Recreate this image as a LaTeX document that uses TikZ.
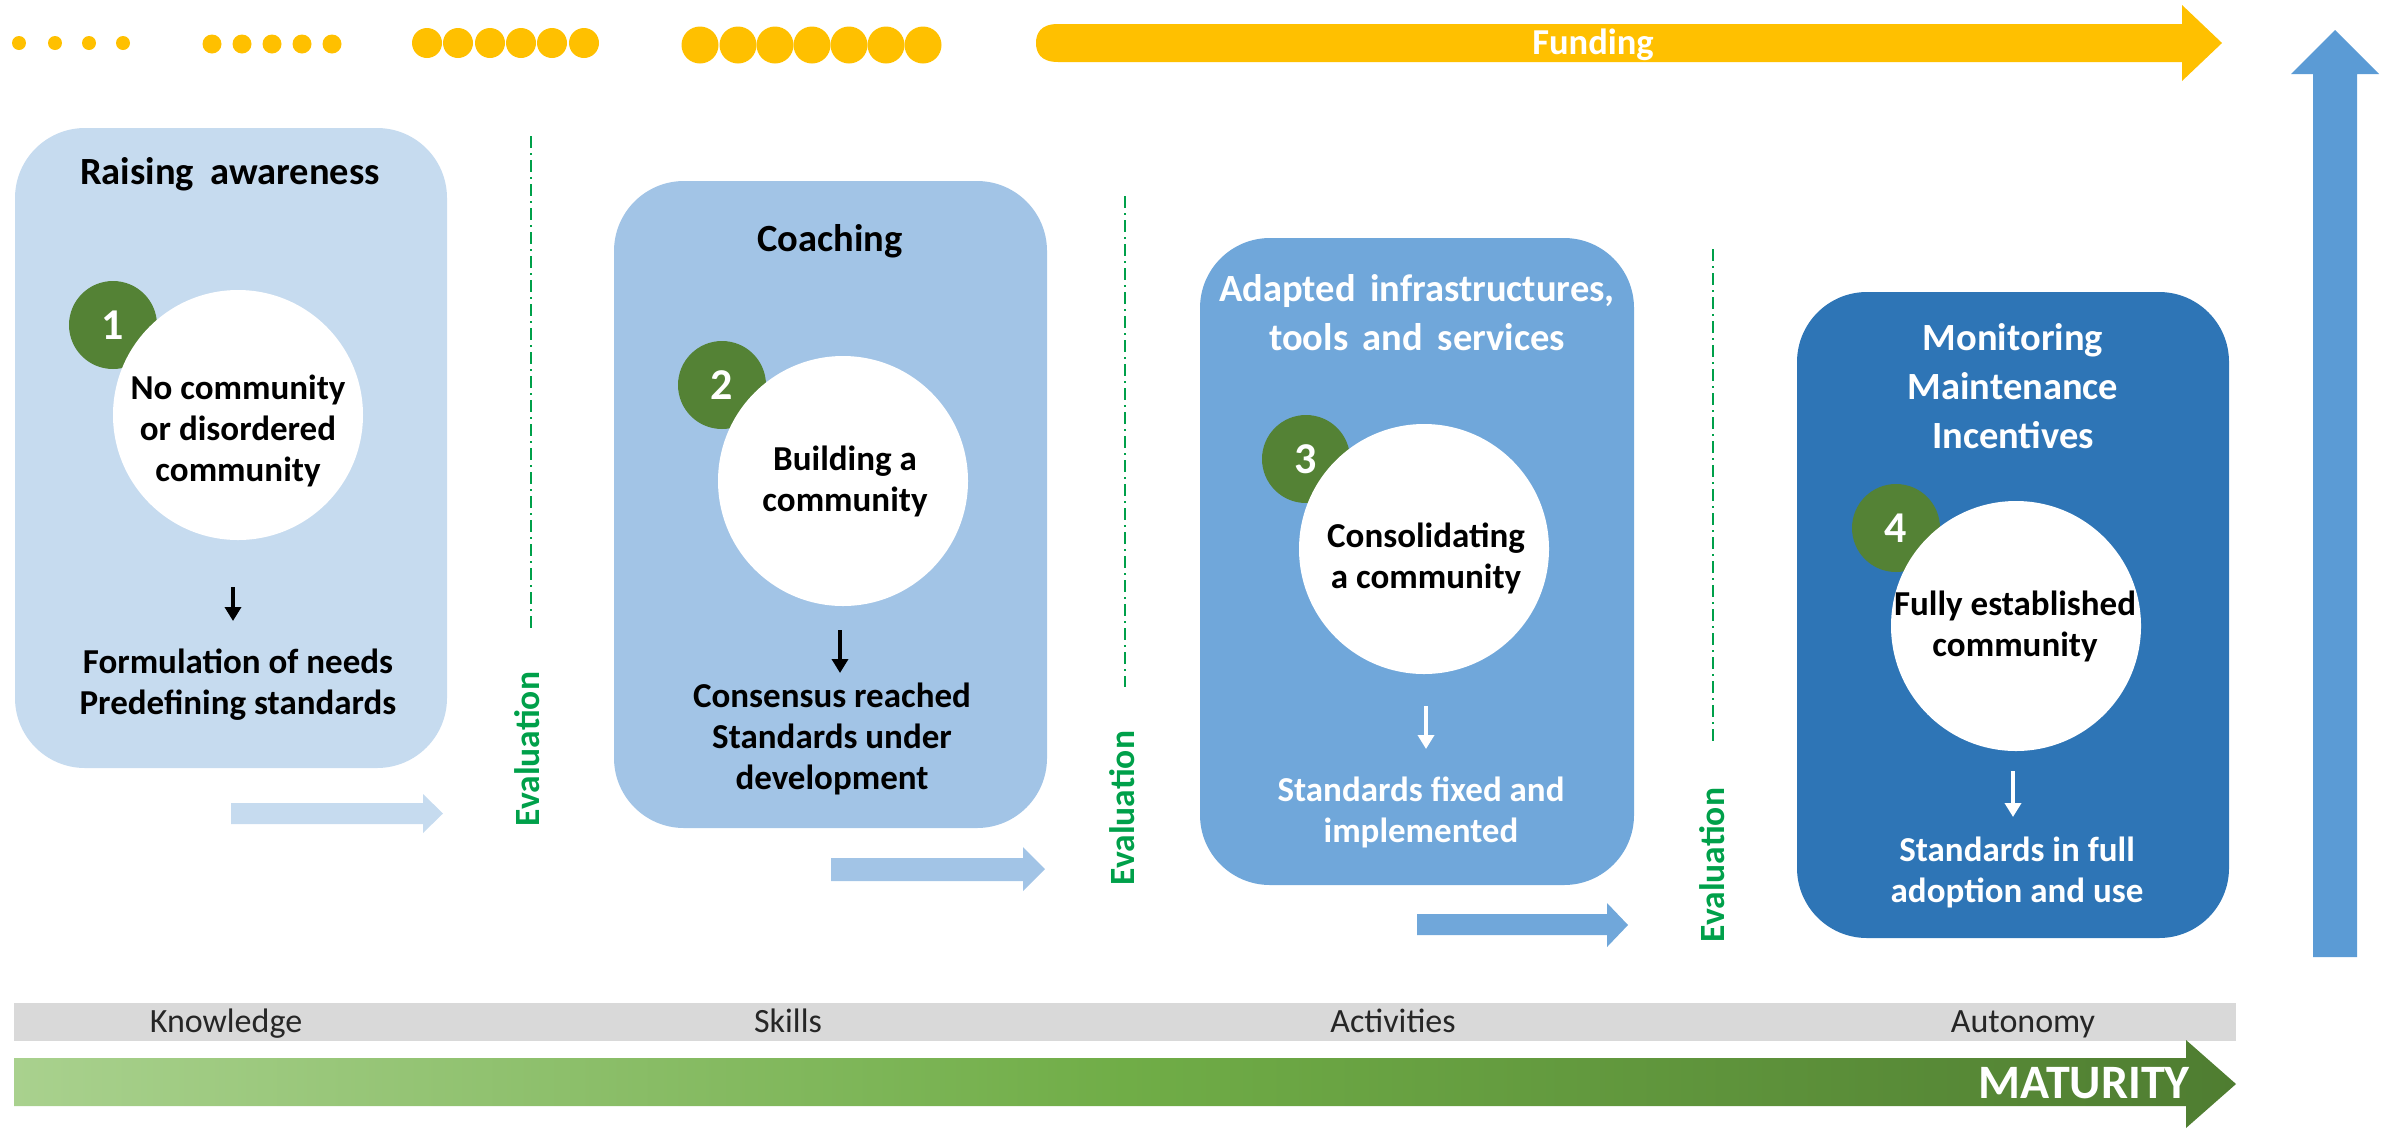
\documentclass[tikz,border=0pt]{standalone}
\usepackage{fontspec}
\setmainfont{Carlito}
\usetikzlibrary{arrows.meta}
\definecolor{boxA}{HTML}{C6DBEF}
\definecolor{boxB}{HTML}{A2C4E6}
\definecolor{boxC}{HTML}{70A7DA}
\definecolor{boxD}{HTML}{2E75B6}
\definecolor{upblue}{HTML}{5B9BD5}
\definecolor{gold}{HTML}{FFC000}
\definecolor{numgreen}{HTML}{548235}
\definecolor{evalgreen}{HTML}{00A04A}
\definecolor{bandgray}{HTML}{D9D9D9}
\definecolor{matL}{HTML}{A9D18E}
\definecolor{matM}{HTML}{70AD47}
\definecolor{matR}{HTML}{4F7D31}
\begin{document}
\begin{tikzpicture}[x=1pt,y=-1pt,
 stagebox/.style={rectangle, rounded corners=70pt, inner sep=0pt, draw=none},
 whitecirc/.style={circle, fill=white, minimum size=250pt, inner sep=0pt},
 numcirc/.style={circle, fill=numgreen, minimum size=88pt, inner sep=0pt, text=white, font=\bfseries\fontsize{44}{50}\selectfont},
 titletext/.style={align=center, font=\bfseries\fontsize{38.5}{49}\selectfont, inner sep=0pt},
 bodytext/.style={align=center, font=\bfseries\fontsize{35}{41}\selectfont, inner sep=0pt},
 evaltext/.style={rotate=90, text=evalgreen, font=\bfseries\fontsize{35.5}{40}\selectfont, inner sep=0pt},
 evalline/.style={evalgreen, line width=2pt, dash pattern=on 12pt off 5pt on 2pt off 5pt},
 downarrow/.style={line width=3.8pt, -{Triangle[width=16pt,length=14pt]}},
 bandtext/.style={font=\fontsize{34}{40}\selectfont, text=black!85, inner sep=0pt, anchor=base},
 dot/.style={circle, fill=gold, inner sep=0pt, draw=none}
]
\useasboundingbox (0,0) rectangle (2389,1128);

% ---- dots ----
\foreach \x in {19,55,89,123} \node[dot, minimum size=14pt] (dA\x) at (\x,43) {};
\foreach \x in {212,242,272,302,332} \node[dot, minimum size=19pt] (dB\x) at (\x,44) {};
\foreach \x in {427,458,490,521,552,584} \node[dot, minimum size=30pt] (dC\x) at (\x,43) {};
\foreach \x in {700,738,775,812,849,886,923} \node[dot, minimum size=37pt] (dD\x) at (\x,45) {};

% ---- funding arrow ----
\fill[gold] (1058,24) -- (2182,24) -- (2182,5) -- (2222,43) -- (2182,81) -- (2182,62) -- (1058,62)
  .. controls (1040,62) and (1036,52) .. (1036,43) .. controls (1036,34) and (1040,24) .. (1058,24) -- cycle;
\node[font=\bfseries\fontsize{36.5}{40}\selectfont, text=white, inner sep=0pt] (fund) at (1593,45) {Funding};

% ---- vertical arrow ----
\fill[upblue] (2313,957) -- (2313,74) -- (2291,74) -- (2335,30) -- (2379,74) -- (2357,74) -- (2357,957) -- cycle;

% ---- stage boxes ----
\node[stagebox, fill=boxA, minimum width=432pt, minimum height=640pt] (b1) at (231,448) {};
\node[stagebox, fill=boxB, minimum width=433pt, minimum height=647pt] (b2) at (830.5,504.5) {};
\node[stagebox, fill=boxC, minimum width=434pt, minimum height=647pt] (b3) at (1417,561.5) {};
\node[stagebox, fill=boxD, minimum width=432pt, minimum height=646pt] (b4) at (2013,615) {};

% titles
\node[titletext] (ti1) at (230,174) {Raising\hspace{0.2em} awareness};
\node[titletext] (ti2) at (830,241) {Coaching};
\node[titletext, text=white] (ti3) at (1417,313) {Adapted\hspace{0.15em} infrastructures,\\tools\hspace{0.15em} and\hspace{0.15em} services};
\node[titletext, text=white] (ti4) at (2013,386) {Monitoring\\Maintenance\\Incentives};

% number circles
\node[numcirc] (n1) at (113,325) {1};
\node[numcirc] (n2) at (722,385) {2};
\node[numcirc] (n3) at (1306,459) {3};
\node[numcirc] (n4) at (1896,528) {4};

% white circles
\node[whitecirc] (w1) at (238,415) {};
\node[whitecirc] (w2) at (843,481) {};
\node[whitecirc] (w3) at (1424,549) {};
\node[whitecirc] (w4) at (2016,626) {};

\node[bodytext] (c1) at (238,431) {No community\\or disordered\\community};
\node[bodytext] (c2) at (845,481) {Building a\\community};
\node[bodytext] (c3) at (1426,558) {Consolidating\\a community};
\node[bodytext] (c4) at (2015,626) {Fully established\\community};

% outcomes
\node[bodytext] (o1) at (238,685) {Formulation of needs\\Predefining standards};
\node[bodytext] (o2) at (832,739) {Consensus reached\\Standards under\\development};
\node[bodytext, text=white] (o3) at (1421,812) {Standards fixed and\\implemented};
\node[bodytext, text=white] (o4) at (2017,872) {Standards in full\\adoption and use};

% down arrows
\coordinate (a1s) at (233,587); \coordinate (a1e) at (233,621);
\coordinate (a2s) at (840,630); \coordinate (a2e) at (840,673);
\coordinate (a3s) at (1426,706); \coordinate (a3e) at (1426,749);
\coordinate (a4s) at (2013,771); \coordinate (a4e) at (2013,817);
\draw[downarrow, black] (a1s) -- (a1e);
\draw[downarrow, black] (a2s) -- (a2e);
\draw[downarrow, white] (a3s) -- (a3e);
\draw[downarrow, white] (a4s) -- (a4e);

% ---- evaluation lines ----
\coordinate (e1t) at (531,136); \coordinate (e1b) at (531,629);
\coordinate (e2t) at (1125,196); \coordinate (e2b) at (1125,687);
\coordinate (e3t) at (1713,249); \coordinate (e3b) at (1713,742);
\draw[evalline] (e1t) -- (e1b);
\draw[evalline] (e2t) -- (e2b);
\draw[evalline] (e3t) -- (e3b);
\node[evaltext] (ev1) at (527,749) {Evaluation};
\node[evaltext] (ev2) at (1122,808) {Evaluation};
\node[evaltext] (ev3) at (1712,865) {Evaluation};

% ---- small block arrows ----
\fill[boxA] (231,803) -- (423,803) -- (423,794) -- (443,813.5) -- (423,833) -- (423,824) -- (231,824) -- cycle;
\fill[boxB] (831,858) -- (1023,858) -- (1023,847) -- (1045,869) -- (1023,891) -- (1023,881) -- (831,881) -- cycle;
\fill[boxC] (1417,914) -- (1607,914) -- (1607,903) -- (1628,925) -- (1607,947) -- (1607,935) -- (1417,935) -- cycle;

% ---- gray band ----
\node[fill=bandgray, minimum width=2222pt, minimum height=38pt, inner sep=0pt] (bandbar) at (1125,1022) {};
\node[bandtext] (k1) at (226,1032) {Knowledge};
\node[bandtext] (k2) at (788,1032) {Skills};
\node[bandtext] (k3) at (1393,1032) {Activities};
\node[bandtext] (k4) at (2023,1032) {Autonomy};

% ---- maturity arrow ----
\shade[left color=matL, right color=matR, middle color=matM] (14,1058) -- (2186,1058) -- (2186,1040) -- (2236,1084) -- (2186,1128) -- (2186,1106) -- (14,1106) -- cycle;
\node[anchor=east, text=white, font=\bfseries\fontsize{48}{56}\selectfont, inner sep=0pt] (mat) at (2190,1083) {MATURITY};
\end{tikzpicture}
\end{document}
